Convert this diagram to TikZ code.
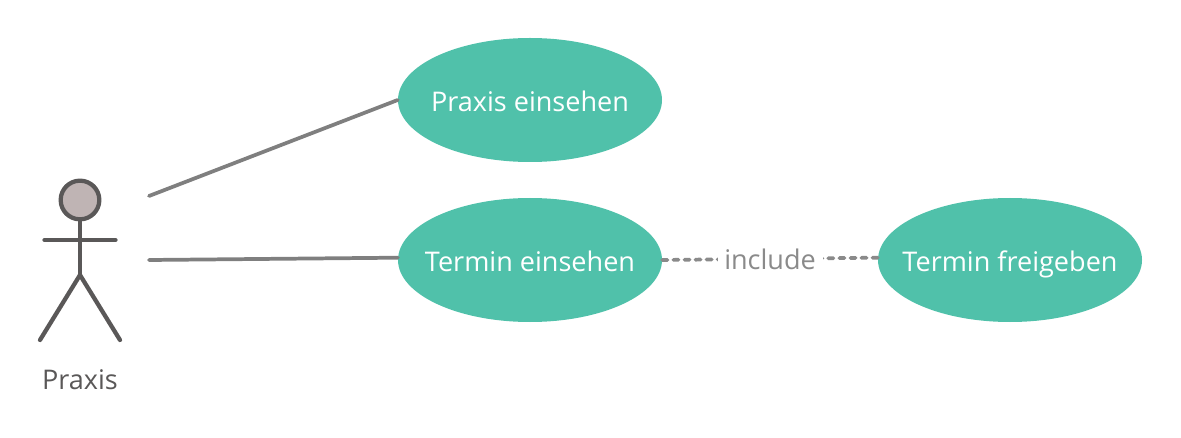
\documentclass[tikz,border=0pt]{standalone}
\usepackage{fontspec}
\setmainfont{Open Sans}
\usepackage{xcolor}
\usetikzlibrary{positioning,shapes.geometric}
\definecolor{teal}{HTML}{50C1AA}
\definecolor{stick}{HTML}{5A5858}
\definecolor{headfill}{HTML}{BFB4B4}
\definecolor{linegray}{HTML}{7F7F7F}
\definecolor{dashgray}{HTML}{8A8A8A}

\begin{document}
\begin{tikzpicture}[
  x=0.75pt,y=-0.75pt,
  font=\fontsize{20.3}{24}\selectfont,
  usecase/.style={ellipse,fill=teal,text=white,minimum width=198pt,minimum height=93pt,inner sep=0pt,text height=17.3pt,text depth=0pt},
  limb/.style={draw=stick,line width=3.2pt,line cap=round},
  assoc/.style={draw=linegray,line width=2.8pt,line cap=round},
  incl/.style={draw=dashgray,line width=2.8pt,line cap=round,dash pattern=on 3.9pt off 4.4pt}
]
\useasboundingbox (0,0) rectangle (1181,438);
\node[usecase] (praxis) at (530,100) {\makebox[0pt]{Praxis einsehen}};
\node[usecase] (termin) at (530,260) {\makebox[0pt]{Termin einsehen}};
\node[usecase] (freigabe) at (1010,260) {\makebox[0pt]{Termin freigeben}};
% actor
\node[circle,draw=stick,fill=headfill,line width=3.2pt,minimum size=29pt,inner sep=0pt] (head) at (80,200) {};
\coordinate (hip) at (80,275);
\coordinate (armL) at (44.5,240);
\coordinate (armR) at (115.5,240);
\coordinate (footL) at (40,340);
\coordinate (footR) at (120,340);
\draw[limb] (head.south) -- (hip);
\draw[limb] (armL) -- (armR);
\draw[limb] (footL) -- (hip) -- (footR);
\node[text=stick] (actor) at (80,380) {Praxis};
% connectors
\coordinate (a1) at (149,196);
\coordinate (a2) at (149,260);
\draw[assoc] (a1) -- (praxis.west);
\draw[assoc] (a2) -- (termin.179);
\draw[incl] (termin.east) -- node[fill=white,text=dashgray,inner xsep=5pt,inner ysep=2pt,text height=15.6pt,text depth=0pt] (label) {include} (freigabe.179);
\end{tikzpicture}
\end{document}
